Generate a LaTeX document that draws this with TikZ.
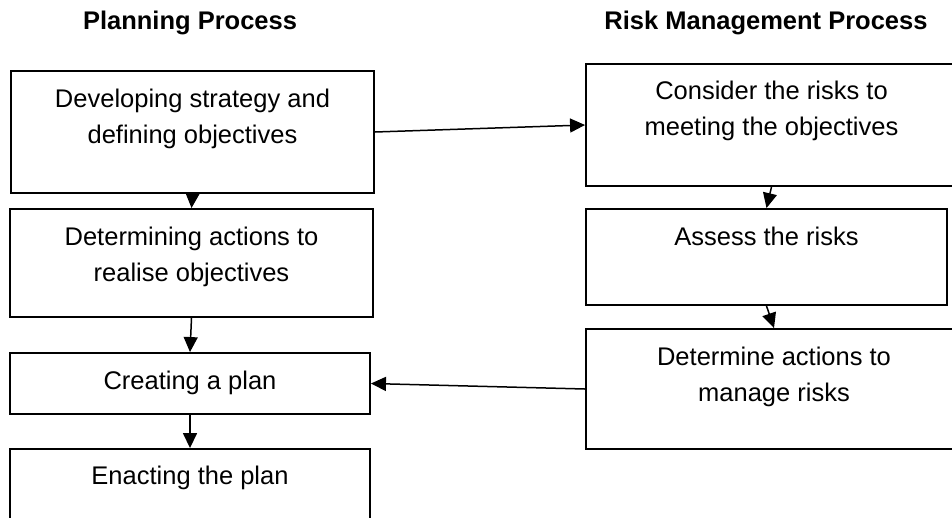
\documentclass[tikz,border=0pt]{standalone}
\usepackage{fontspec}
\setmainfont{Liberation Sans}
\usetikzlibrary{arrows.meta}
\begin{document}
\begin{tikzpicture}[x=1pt,y=-1pt,
  stage/.style={draw=black,line width=1.9pt,rectangle,inner sep=0pt},
  caption/.style={anchor=base,inner sep=0pt,
    font=\fontsize{25.5}{36.5}\selectfont},
  heading/.style={anchor=base,inner sep=0pt,
    font=\fontsize{25.5}{30}\selectfont\bfseries},
  flow/.style={line width=1.5pt,-{Triangle[length=15pt,width=14pt]}}]
\clip (0,0) rectangle (952,517);

% column headings
\node[heading] (hplan) at (190,29) {Planning Process};
\node[heading] (hrisk) at (766,29) {Risk Management Process};

% planning column
\node[stage,minimum width=363pt,minimum height=122pt] (b1) at (192.5,132) {};
\node[stage,minimum width=363pt,minimum height=108pt] (b2) at (191.5,263) {};
\node[stage,minimum width=360pt,minimum height=61pt]  (b3) at (190,383.5) {};
\node[stage,minimum width=360pt,minimum height=100pt] (b4) at (190,499) {};

% risk management column
\node[stage,minimum width=371pt,minimum height=122pt] (r1) at (771.5,125) {};
\node[stage,minimum width=361pt,minimum height=96pt]  (r2) at (766.5,257) {};
\node[stage,minimum width=376pt,minimum height=120pt] (r3) at (774,389) {};

% box texts, first baseline 37pt below the top edge
\node[caption] (t1) at ([yshift=-37pt]b1.north)
  {\begin{tabular}[t]{@{}c@{}}Developing strategy and\\defining objectives\end{tabular}};
\node[caption] (t2) at ([yshift=-37pt]b2.north)
  {\begin{tabular}[t]{@{}c@{}}Determining actions to\\realise objectives\end{tabular}};
\node[caption] (t3) at ([yshift=-37pt]b3.north) {Creating a plan};
\node[caption] (t4) at ([yshift=-36pt]b4.north) {Enacting the plan};
\node[caption] (u1) at ([yshift=-36pt]r1.north)
  {\begin{tabular}[t]{@{}c@{}}Consider the risks to\\meeting the objectives\end{tabular}};
\node[caption] (u2) at ([yshift=-37pt]r2.north) {Assess the risks};
\node[caption] (u3) at ([yshift=-37pt]r3.north)
  {\begin{tabular}[t]{@{}c@{}}Determine actions to\\manage risks\end{tabular}};

% connectors
\draw[flow] (b1.south) -- (b2.north);
\draw[flow] (b2.south) -- (b3.north);
\draw[flow] (b3.south) -- (b4.north);
\draw[flow] (r1.south) -- (r2.north);
\draw[flow] (r2.south) -- (r3.north);
\draw[flow] (b1.east) -- (r1.west);
\draw[flow] (r3.west) -- (b3.east);
\end{tikzpicture}
\end{document}
